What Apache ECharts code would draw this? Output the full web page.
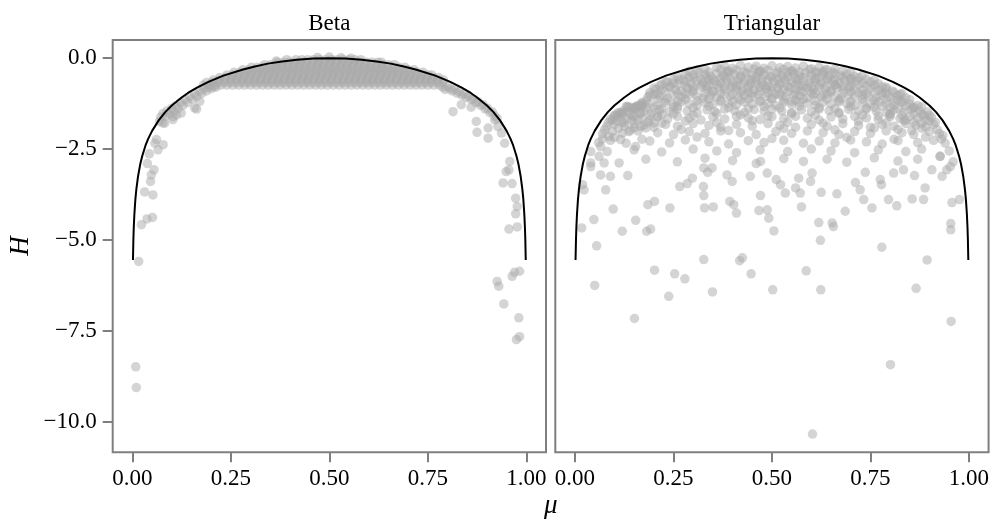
<!DOCTYPE html>
<html>
<head>
<meta charset="utf-8">
<script src="https://cdn.jsdelivr.net/npm/echarts@6/dist/echarts.min.js"></script>
<style>
  html, body { margin: 0; padding: 0; background: #fff; }
  #chart { width: 992px; height: 523px; }
</style>
</head>
<body>
<div id="chart"></div>
<script>
// Axis ticks and panel headings
const xTicks = [0, 0.25, 0.5, 0.75, 1];
const yTicks = [-10, -7.5, -5, -2.5, 0];
const panelTitles = ['Beta', 'Triangular'];

// Maximum-entropy bound H(mu)
const curveMu = [0.0014, 0.0025, 0.0035, 0.005, 0.0075, 0.01, 0.0143, 0.02, 0.025, 0.0333, 0.04, 0.05, 0.0667, 0.0833, 0.1, 0.125, 0.142, 0.164, 0.193, 0.231, 0.281, 0.311, 0.344, 0.38, 0.418, 0.459, 0.5,
  0.541, 0.582, 0.62, 0.656, 0.689, 0.719, 0.769, 0.807, 0.836, 0.858, 0.875, 0.9, 0.9167, 0.9333, 0.95, 0.96, 0.9667, 0.975, 0.98, 0.9857, 0.99, 0.9925, 0.995, 0.9965, 0.9975, 0.9986];
const curveH = [-5.55, -4.99, -4.65, -4.30, -3.89, -3.61, -3.25, -2.91, -2.69, -2.40, -2.22, -2.00, -1.71, -1.485, -1.30, -1.08, -0.95, -0.81, -0.65, -0.48, -0.31, -0.23, -0.15, -0.09, -0.04, -0.01, 0,
  -0.01, -0.04, -0.09, -0.15, -0.23, -0.31, -0.48, -0.65, -0.81, -0.95, -1.08, -1.30, -1.485, -1.71, -2.00, -2.22, -2.40, -2.69, -2.91, -3.25, -3.61, -3.89, -4.30, -4.65, -4.99, -5.55];

// Beta: dense band, listed as [H, mu values]
const betaBandRows = [
  [-0.74, [0.180,0.195,0.210,0.225,0.240,0.255,0.270,0.285,0.300,0.315,0.330,0.345,0.360,0.375,0.390,0.405,0.420,0.435,0.450,0.465,0.480,0.495,0.510,0.525,0.540,0.555,0.570,0.585,0.600,0.615,0.630,0.645,0.660,0.675,0.690,0.705,0.720,0.735,0.750,0.765,0.780]],
  [-0.67, [0.188,0.203,0.218,0.233,0.248,0.263,0.278,0.293,0.308,0.323,0.338,0.353,0.368,0.383,0.398,0.413,0.428,0.443,0.458,0.473,0.488,0.503,0.518,0.533,0.548,0.563,0.578,0.593,0.608,0.623,0.638,0.653,0.668,0.683,0.698,0.713,0.728,0.743,0.758,0.773,0.788]],
  [-0.60, [0.205,0.220,0.235,0.250,0.265,0.280,0.295,0.310,0.325,0.340,0.355,0.370,0.385,0.400,0.415,0.430,0.445,0.460,0.475,0.490,0.505,0.520,0.535,0.550,0.565,0.580,0.595,0.610,0.625,0.640,0.655,0.670,0.685,0.700,0.715,0.730,0.745,0.760,0.775,0.790]],
  [-0.53, [0.222,0.237,0.252,0.267,0.282,0.297,0.312,0.327,0.342,0.357,0.372,0.387,0.402,0.417,0.432,0.447,0.462,0.477,0.492,0.507,0.522,0.537,0.552,0.567,0.582,0.597,0.612,0.627,0.642,0.657,0.672,0.687,0.702,0.717,0.732,0.747,0.762,0.777]],
  [-0.46, [0.240,0.255,0.270,0.285,0.300,0.315,0.330,0.345,0.360,0.375,0.390,0.405,0.420,0.435,0.450,0.465,0.480,0.495,0.510,0.525,0.540,0.555,0.570,0.585,0.600,0.615,0.630,0.645,0.660,0.675,0.690,0.705,0.720,0.735,0.750,0.760]],
  [-0.39, [0.258,0.273,0.288,0.303,0.318,0.333,0.348,0.363,0.378,0.393,0.408,0.423,0.438,0.453,0.468,0.483,0.498,0.513,0.528,0.543,0.558,0.573,0.588,0.603,0.618,0.633,0.648,0.663,0.678,0.693,0.708,0.723,0.738]],
  [-0.32, [0.280,0.295,0.310,0.325,0.340,0.355,0.370,0.385,0.400,0.415,0.430,0.445,0.460,0.475,0.490,0.505,0.520,0.535,0.550,0.565,0.580,0.595,0.610,0.625,0.640,0.655,0.670,0.685,0.700,0.715]],
  [-0.25, [0.302,0.317,0.332,0.347,0.362,0.377,0.392,0.407,0.422,0.437,0.452,0.467,0.482,0.497,0.512,0.527,0.542,0.557,0.572,0.587,0.602,0.617,0.632,0.647,0.662,0.677,0.692]],
  [-0.18, [0.335,0.350,0.365,0.380,0.395,0.410,0.425,0.440,0.455,0.470,0.485,0.500,0.515,0.530,0.545,0.560,0.575,0.590,0.605,0.620,0.635,0.650,0.665]],
  [-0.11, [0.368,0.383,0.398,0.413,0.428,0.443,0.458,0.473,0.488,0.503,0.518,0.533,0.548,0.563,0.578,0.593,0.608,0.623,0.632]],
  [-0.04, [0.415,0.430,0.445,0.460,0.475,0.490,0.505,0.520,0.535,0.550,0.565,0.580]]
];
const betaTop = [[0.470,0.02],[0.392,-0.04],[0.530,0.01],[0.555,0.00],[0.365,-0.08],[0.500,0.03]];
const betaEdges = [
  [0.072,-1.62],[0.078,-1.52],[0.084,-1.60],[0.088,-1.45],[0.094,-1.53],[0.100,-1.38],[0.105,-1.46],[0.110,-1.31],[0.116,-1.38],[0.122,-1.22],
  [0.128,-1.30],[0.134,-1.14],[0.140,-1.22],[0.146,-1.06],[0.152,-1.13],[0.158,-0.98],[0.164,-1.05],[0.170,-0.91],[0.176,-0.97],[0.182,-0.84],
  [0.188,-0.90],[0.194,-0.80],[0.200,-0.84],[0.206,-0.78],[0.212,-0.80],
  [0.788,-0.80],[0.794,-0.86],[0.800,-0.78],[0.806,-0.84],[0.812,-0.90],[0.818,-0.86],[0.824,-0.96],[0.830,-0.92],[0.836,-1.02],[0.842,-0.98],
  [0.848,-1.08],[0.854,-1.04],[0.860,-1.14],[0.866,-1.12],[0.872,-1.22],[0.878,-1.20],[0.884,-1.30],[0.890,-1.28],[0.896,-1.40],[0.902,-1.38],
  [0.908,-1.50],[0.914,-1.48],[0.920,-1.60],[0.926,-1.66]
];
const betaTails = [
  [0.0085,-8.49],[0.010,-9.06],[0.016,-5.59],[0.023,-4.58],[0.037,-4.42],[0.051,-4.38],[0.031,-3.68],[0.052,-3.76],[0.046,-3.39],[0.048,-3.21],
  [0.055,-3.07],[0.038,-2.90],[0.043,-2.63],[0.057,-2.34],[0.078,-2.38],[0.065,-2.52],[0.061,-2.24],[0.069,-1.74],[0.082,-1.79],[0.077,-1.78],
  [0.103,-1.61],[0.112,-1.56],[0.124,-1.51],[0.103,-1.69],[0.158,-1.37],[0.171,-1.19],[0.163,-1.40],
  [0.814,-1.47],[0.835,-1.28],[0.860,-1.35],[0.873,-1.74],[0.875,-2.04],[0.903,-2.20],[0.903,-1.92],[0.920,-1.70],[0.928,-1.88],[0.937,-2.06],
  [0.945,-2.34],[0.958,-2.84],[0.949,-3.12],[0.956,-3.07],[0.941,-3.43],[0.964,-3.45],[0.973,-3.85],[0.977,-4.08],[0.973,-4.28],[0.956,-4.70],
  [0.977,-4.64],[0.970,-5.89],[0.983,-5.86],[0.964,-6.00],[0.926,-6.14],[0.930,-6.27],[0.943,-6.76],[0.981,-7.14],[0.975,-7.74],[0.983,-7.66]
];

// Triangular: main cloud and scattered low values
const triDense = [
  [0.33,-0.30],[0.36,-0.26],[0.38,-0.22],[0.40,-0.28],[0.42,-0.20],[0.44,-0.25],[0.46,-0.22],[0.48,-0.28],[0.50,-0.21],[0.52,-0.26],[0.54,-0.23],[0.56,-0.27],[0.58,-0.22],[0.60,-0.29],[0.62,-0.25],[0.64,-0.31],[0.66,-0.30],
  [0.26,-0.52],[0.28,-0.44],[0.30,-0.46],[0.315,-0.40],[0.33,-0.45],[0.345,-0.50],[0.36,-0.42],[0.375,-0.47],[0.39,-0.40],[0.405,-0.44],[0.42,-0.49],[0.435,-0.41],[0.45,-0.46],[0.465,-0.40],[0.48,-0.45],[0.495,-0.50],[0.51,-0.42],[0.525,-0.47],[0.54,-0.40],[0.555,-0.44],[0.57,-0.49],[0.585,-0.41],[0.60,-0.46],[0.615,-0.40],[0.63,-0.45],[0.645,-0.50],[0.66,-0.43],[0.675,-0.48],[0.69,-0.44],[0.71,-0.50],[0.73,-0.47],
  [0.22,-0.72],[0.235,-0.66],[0.25,-0.68],[0.265,-0.60],[0.28,-0.65],[0.295,-0.70],[0.31,-0.62],[0.325,-0.67],[0.34,-0.60],[0.355,-0.64],[0.37,-0.69],[0.385,-0.61],[0.40,-0.66],[0.415,-0.60],[0.43,-0.65],[0.445,-0.70],[0.46,-0.62],[0.475,-0.67],[0.49,-0.60],[0.505,-0.64],[0.52,-0.69],[0.535,-0.61],[0.55,-0.66],[0.565,-0.60],[0.58,-0.65],[0.595,-0.70],[0.61,-0.62],[0.625,-0.67],[0.64,-0.60],[0.655,-0.64],[0.67,-0.69],[0.685,-0.61],[0.70,-0.66],[0.715,-0.62],[0.73,-0.68],[0.75,-0.65],[0.77,-0.70],
  [0.19,-0.95],[0.205,-0.86],[0.22,-0.87],[0.24,-0.80],[0.255,-0.86],[0.27,-0.90],[0.285,-0.82],[0.30,-0.87],[0.32,-0.80],[0.335,-0.85],[0.35,-0.90],[0.365,-0.81],[0.38,-0.86],[0.395,-0.80],[0.41,-0.85],[0.425,-0.90],[0.44,-0.82],[0.455,-0.87],[0.47,-0.80],[0.485,-0.84],[0.50,-0.89],[0.515,-0.81],[0.53,-0.86],[0.545,-0.80],[0.56,-0.85],[0.575,-0.90],[0.59,-0.82],[0.605,-0.87],[0.62,-0.80],[0.635,-0.84],[0.65,-0.89],[0.665,-0.81],[0.68,-0.86],[0.695,-0.80],[0.71,-0.85],[0.73,-0.88],[0.75,-0.82],[0.77,-0.87],[0.79,-0.84],[0.805,-0.90],
  [0.15,-1.36],[0.17,-1.22],[0.185,-1.07],[0.20,-1.00],[0.215,-1.05],[0.235,-1.10],[0.25,-1.02],[0.27,-1.07],[0.29,-1.00],[0.31,-1.05],[0.325,-1.10],[0.345,-1.02],[0.36,-1.07],[0.38,-1.00],[0.395,-1.04],[0.415,-1.09],[0.43,-1.01],[0.45,-1.06],[0.465,-1.00],[0.485,-1.05],[0.50,-1.10],[0.52,-1.02],[0.535,-1.07],[0.555,-1.00],[0.57,-1.04],[0.59,-1.09],[0.605,-1.01],[0.625,-1.06],[0.64,-1.00],[0.66,-1.05],[0.675,-1.10],[0.695,-1.02],[0.71,-1.07],[0.73,-1.00],[0.745,-1.05],[0.765,-1.10],[0.78,-1.02],[0.80,-1.07],[0.82,-1.03],[0.84,-1.09],
  [0.12,-1.46],[0.135,-1.35],[0.155,-1.33],[0.17,-1.28],[0.19,-1.25],[0.21,-1.30],[0.23,-1.22],[0.25,-1.27],[0.27,-1.20],[0.29,-1.25],[0.31,-1.30],[0.33,-1.22],[0.35,-1.27],[0.37,-1.20],[0.39,-1.24],[0.41,-1.29],[0.43,-1.21],[0.45,-1.26],[0.47,-1.20],[0.49,-1.25],[0.51,-1.30],[0.53,-1.22],[0.55,-1.27],[0.57,-1.20],[0.59,-1.24],[0.61,-1.29],[0.63,-1.21],[0.65,-1.26],[0.67,-1.20],[0.69,-1.25],[0.71,-1.30],[0.73,-1.22],[0.75,-1.27],[0.77,-1.20],[0.79,-1.25],[0.81,-1.30],[0.83,-1.22],[0.85,-1.27],[0.87,-1.30],
  [0.10,-1.57],[0.115,-1.50],[0.135,-1.47],[0.155,-1.40],[0.175,-1.45],[0.195,-1.50],[0.215,-1.42],[0.24,-1.47],[0.26,-1.40],[0.285,-1.45],[0.31,-1.50],[0.335,-1.42],[0.355,-1.47],[0.38,-1.40],[0.405,-1.44],[0.43,-1.49],[0.455,-1.41],[0.48,-1.46],[0.50,-1.40],[0.525,-1.45],[0.55,-1.50],[0.575,-1.42],[0.60,-1.47],[0.62,-1.40],[0.645,-1.44],[0.67,-1.49],[0.695,-1.41],[0.72,-1.46],[0.74,-1.40],[0.765,-1.45],[0.79,-1.50],[0.81,-1.42],[0.835,-1.47],[0.855,-1.40],[0.875,-1.45],[0.895,-1.48],
  [0.09,-1.68],[0.11,-1.62],[0.13,-1.67],[0.15,-1.60],[0.17,-1.65],[0.19,-1.70],[0.21,-1.62],[0.235,-1.67],[0.26,-1.60],[0.29,-1.65],[0.32,-1.70],[0.35,-1.62],[0.38,-1.67],[0.41,-1.60],[0.44,-1.64],[0.47,-1.69],[0.50,-1.61],[0.53,-1.66],[0.56,-1.60],[0.59,-1.65],[0.62,-1.70],[0.65,-1.62],[0.68,-1.67],[0.71,-1.60],[0.74,-1.64],[0.77,-1.69],[0.80,-1.61],[0.825,-1.66],[0.85,-1.60],[0.87,-1.65],[0.89,-1.70],[0.905,-1.62],
  [0.08,-1.88],[0.10,-1.82],[0.125,-1.87],[0.15,-1.80],[0.175,-1.85],[0.20,-1.90],[0.23,-1.82],[0.26,-1.87],[0.30,-1.80],[0.34,-1.85],[0.37,-1.90],[0.41,-1.82],[0.45,-1.87],[0.49,-1.80],[0.52,-1.85],[0.56,-1.90],[0.60,-1.82],[0.64,-1.87],[0.68,-1.80],[0.72,-1.85],[0.75,-1.90],[0.78,-1.82],[0.81,-1.87],[0.84,-1.80],[0.865,-1.85],[0.89,-1.90],[0.91,-1.82],
  [0.07,-2.08],[0.095,-2.02],[0.12,-2.07],[0.16,-2.00],[0.21,-2.05],[0.25,-2.10],[0.29,-2.02],[0.33,-2.07],[0.37,-2.00],[0.42,-2.05],[0.46,-2.10],[0.51,-2.02],[0.55,-2.07],[0.59,-2.00],[0.63,-2.05],[0.67,-2.10],[0.71,-2.02],[0.75,-2.07],[0.79,-2.00],[0.83,-2.05],[0.86,-2.10],[0.90,-2.02],[0.925,-2.07],
  [0.06,-2.32],[0.09,-2.26],[0.13,-2.34],[0.19,-2.28],[0.24,-2.33],[0.28,-2.25],[0.34,-2.30],[0.39,-2.36],[0.44,-2.27],[0.48,-2.32],[0.53,-2.26],[0.58,-2.34],[0.62,-2.28],[0.66,-2.33],[0.70,-2.25],[0.74,-2.30],[0.78,-2.36],[0.82,-2.27],[0.87,-2.32],[0.91,-2.26],[0.94,-2.34],
  [0.04,-2.57],[0.082,-2.57],[0.15,-2.52],[0.22,-2.58],[0.30,-2.50],[0.36,-2.55],[0.41,-2.60],[0.47,-2.52],[0.54,-2.57],[0.60,-2.50],[0.65,-2.55],[0.71,-2.60],[0.77,-2.52],[0.84,-2.57],[0.88,-2.50],[0.95,-2.55],
  [0.061,-2.70],[0.074,-2.88],[0.04,-2.88],[0.112,-2.88],[0.18,-2.78],[0.26,-2.85],[0.33,-2.75],[0.40,-2.82],[0.46,-2.90],[0.53,-2.76],[0.58,-2.84],[0.64,-2.78],[0.69,-2.86],[0.76,-2.74],[0.82,-2.83],[0.87,-2.78],[0.927,-2.70],[0.96,-2.85],
  [0.086,-2.15],[0.065,-2.43],[0.116,-2.24],[0.137,-2.02],[0.150,-1.92],[0.154,-2.43],[0.095,-1.70],[0.107,-1.56],[0.12,-1.51],[0.133,-1.33],[0.158,-1.33],[0.167,-1.51],[0.167,-1.88],[0.934,-2.13],
  [0.37,-0.55],[0.41,-0.75],[0.45,-0.58],[0.49,-0.77],[0.53,-0.55],[0.57,-0.76],[0.61,-0.56],[0.44,-0.95],[0.52,-0.96],[0.60,-0.95],[0.39,-0.35],[0.47,-0.35],[0.55,-0.36],[0.63,-0.38],[0.42,-1.15],[0.56,-1.15],[0.34,-0.75],[0.66,-0.75],[0.30,-0.55],[0.70,-0.56],
  [0.14,-1.55],[0.18,-1.35],[0.22,-1.55],[0.20,-1.78],[0.12,-1.75],[0.25,-1.35],[0.16,-1.70],
  [0.78,-0.95],[0.82,-1.15],[0.86,-1.35],[0.80,-1.55],[0.84,-1.70],[0.88,-1.55],[0.76,-1.35],[0.83,-0.98]
];
const triDenseMid = [
  [0.29,-0.36],[0.31,-0.33],[0.34,-0.38],[0.37,-0.31],[0.385,-0.36],[0.41,-0.33],[0.43,-0.38],[0.455,-0.30],[0.47,-0.37],[0.49,-0.33],[0.515,-0.38],[0.53,-0.31],[0.55,-0.35],[0.57,-0.39],[0.595,-0.32],[0.61,-0.37],[0.635,-0.33],[0.655,-0.39],[0.68,-0.35],[0.70,-0.38],
  [0.23,-0.65],[0.25,-0.58],[0.275,-0.58],[0.29,-0.52],[0.32,-0.57],[0.335,-0.54],[0.35,-0.59],[0.38,-0.52],[0.395,-0.56],[0.42,-0.53],[0.44,-0.59],[0.46,-0.52],[0.475,-0.56],[0.50,-0.54],[0.515,-0.58],[0.54,-0.52],[0.56,-0.57],[0.58,-0.53],[0.60,-0.58],[0.62,-0.52],[0.64,-0.56],[0.66,-0.59],[0.68,-0.53],[0.70,-0.57],[0.72,-0.54],[0.74,-0.58],[0.76,-0.60],
  [0.20,-0.82],[0.215,-0.76],[0.24,-0.78],[0.26,-0.72],[0.28,-0.76],[0.30,-0.79],[0.32,-0.73],[0.335,-0.77],[0.36,-0.72],[0.38,-0.76],[0.40,-0.79],[0.42,-0.73],[0.44,-0.77],[0.46,-0.72],[0.48,-0.76],[0.50,-0.79],[0.52,-0.73],[0.54,-0.77],[0.56,-0.72],[0.58,-0.76],[0.60,-0.79],[0.62,-0.73],[0.64,-0.77],[0.66,-0.72],[0.68,-0.76],[0.70,-0.79],[0.72,-0.73],[0.74,-0.77],[0.76,-0.74],[0.78,-0.78],[0.79,-0.80],
  [0.17,-1.25],[0.19,-1.02],[0.21,-0.98],[0.23,-0.92],[0.26,-0.96],[0.28,-0.99],[0.30,-0.93],[0.33,-0.97],[0.35,-0.92],[0.37,-0.96],[0.40,-0.99],[0.42,-0.93],[0.45,-0.97],[0.47,-0.92],[0.49,-0.96],[0.51,-0.99],[0.54,-0.93],[0.56,-0.97],[0.58,-0.92],[0.61,-0.96],[0.63,-0.99],[0.65,-0.93],[0.68,-0.97],[0.70,-0.92],[0.72,-0.96],[0.74,-0.99],[0.76,-0.93],[0.79,-0.97],[0.81,-0.94],[0.825,-0.99],
  [0.14,-1.35],[0.16,-1.30],[0.18,-1.18],[0.21,-1.12],[0.23,-1.16],[0.26,-1.19],[0.28,-1.13],[0.31,-1.17],[0.34,-1.12],[0.37,-1.16],[0.40,-1.19],[0.44,-1.13],[0.47,-1.17],[0.50,-1.12],[0.53,-1.16],[0.55,-1.19],[0.58,-1.13],[0.61,-1.17],[0.64,-1.12],[0.67,-1.16],[0.70,-1.19],[0.73,-1.13],[0.76,-1.17],[0.79,-1.12],[0.81,-1.16],[0.83,-1.19],[0.85,-1.14],
  [0.11,-1.50],[0.13,-1.33],[0.15,-1.38],[0.17,-1.32],[0.20,-1.36],[0.22,-1.39],[0.26,-1.33],[0.30,-1.37],[0.34,-1.32],[0.39,-1.36],[0.44,-1.39],[0.48,-1.33],[0.52,-1.37],[0.57,-1.32],[0.62,-1.36],[0.66,-1.39],[0.70,-1.33],[0.74,-1.37],[0.78,-1.32],[0.80,-1.36],[0.82,-1.39],[0.84,-1.33],[0.86,-1.37],[0.88,-1.34],
  [0.10,-1.60],[0.12,-1.53],[0.145,-1.58],[0.165,-1.52],[0.19,-1.56],[0.21,-1.59],[0.25,-1.53],[0.30,-1.57],[0.36,-1.52],[0.42,-1.56],[0.49,-1.59],[0.55,-1.53],[0.61,-1.57],[0.67,-1.52],[0.73,-1.56],[0.77,-1.59],[0.80,-1.53],[0.83,-1.57],[0.86,-1.52],[0.885,-1.56],[0.90,-1.58],
  [0.085,-1.77],[0.105,-1.73],[0.125,-1.78],[0.145,-1.72],[0.185,-1.76],[0.22,-1.79],[0.28,-1.73],[0.36,-1.77],[0.45,-1.72],[0.54,-1.76],[0.63,-1.79],[0.72,-1.73],[0.79,-1.77],[0.835,-1.72],[0.86,-1.76],[0.88,-1.79],[0.90,-1.73],[0.915,-1.77],
  [0.075,-1.97],[0.11,-1.93],[0.14,-1.98],[0.18,-1.92],[0.27,-1.96],[0.39,-1.99],[0.53,-1.93],[0.66,-1.97],[0.76,-1.92],[0.82,-1.96],[0.855,-1.99],[0.88,-1.93],[0.92,-1.97],
  [0.07,-2.22],[0.10,-2.18],[0.17,-2.23],[0.31,-2.17],[0.50,-2.21],[0.69,-2.18],[0.81,-2.23],[0.89,-2.17],[0.93,-2.22]
];
const triSparse = [
  [0.040,-2.98],[0.065,-3.21],[0.090,-3.25],[0.134,-3.23],[0.019,-3.48],[0.023,-3.62],[0.078,-3.62],[0.097,-4.15],[0.048,-4.44],[0.017,-4.67],
  [0.120,-4.76],[0.154,-4.46],[0.055,-5.16],[0.185,-4.03],[0.202,-3.94],[0.182,-4.76],[0.192,-4.70],[0.241,-4.12],[0.266,-3.53],[0.285,-3.45],
  [0.298,-3.30],[0.326,-3.53],[0.327,-3.78],[0.329,-4.12],[0.351,-4.09],[0.327,-3.02],[0.337,-3.14],[0.348,-3.02],[0.386,-3.21],[0.399,-3.39],
  [0.393,-3.94],[0.403,-4.03],[0.410,-4.26],[0.445,-3.25],[0.467,-4.19],[0.488,-4.17],[0.492,-4.40],[0.471,-3.78],[0.505,-4.75],[0.511,-3.34],
  [0.471,-2.84],[0.488,-3.16],[0.522,-3.48],[0.534,-3.71],[0.560,-3.57],[0.572,-3.71],[0.575,-4.09],[0.568,-3.30],[0.598,-3.39],[0.602,-3.16],
  [0.625,-3.69],[0.665,-3.73],[0.619,-4.52],[0.653,-4.53],[0.656,-4.63],[0.623,-5.01],[0.686,-4.21],[0.712,-3.42],[0.724,-3.62],[0.733,-3.89],
  [0.754,-4.12],[0.737,-3.14],[0.775,-3.34],[0.778,-3.48],[0.796,-3.89],[0.779,-5.20],[0.817,-4.06],[0.856,-3.87],[0.885,-3.89],[0.889,-3.57],
  [0.862,-3.23],[0.809,-3.16],[0.834,-3.07],[0.932,-3.25],[0.944,-3.07],[0.953,-2.98],[0.957,-3.97],[0.976,-3.89],[0.954,-4.55],[0.954,-4.72],
  [0.906,-3.07],[0.927,-2.70],
  [0.050,-6.25],[0.151,-7.16],[0.202,-5.83],[0.238,-6.55],[0.253,-5.93],[0.279,-6.07],[0.327,-5.54],[0.349,-6.43],[0.418,-5.57],[0.425,-5.49],
  [0.447,-5.93],[0.502,-6.37],[0.587,-5.85],[0.624,-6.37],[0.603,-10.34],[0.801,-8.43],[0.894,-5.55],[0.866,-6.33],[0.955,-7.24]
];

const betaPoints = [];
betaBandRows.forEach(([h, mus]) => mus.forEach(m => betaPoints.push([m, h])));
betaPoints.push(...betaTop, ...betaEdges, ...betaTails);
const triPoints = triDense.concat(triDenseMid, triSparse);
const curve = curveMu.map((m, i) => [m, curveH[i]]);

const SERIF = "'Liberation Serif', 'DejaVu Serif', serif";
const GRAY = '#7f7f7f';
const pointStyle = { color: '#a9a9a9', opacity: 0.5 };
const panels = [{ left: 112.7 }, { left: 555.3 }];
const gridTop = 40, gridW = 433.3, gridH = 412.3;

const fmtY = v => (v < 0 ? '\u2212' : '') + Math.abs(v).toFixed(1);

const option = {
  animation: false,
  backgroundColor: '#ffffff',
  grid: panels.map(p => ({
    left: p.left, top: gridTop, width: gridW, height: gridH,
    show: true, borderColor: GRAY, borderWidth: 2, backgroundColor: 'transparent'
  })),
  xAxis: panels.map((p, i) => ({
    type: 'value', gridIndex: i, min: -0.05, max: 1.05, position: 'bottom',
    axisLine: { show: false, onZero: false },
    splitLine: { show: false },
    axisTick: { show: true, inside: false, customValues: xTicks, length: 10, lineStyle: { color: GRAY, width: 2 } },
    axisLabel: { show: true, customValues: xTicks, margin: 15, color: '#000', fontFamily: SERIF, fontSize: 23,
      formatter: v => v.toFixed(2) }
  })),
  yAxis: panels.map((p, i) => ({
    type: 'value', gridIndex: i, min: -10.84, max: 0.5, position: 'left',
    axisLine: { show: false, onZero: false },
    splitLine: { show: false },
    axisTick: { show: i === 0, inside: false, customValues: yTicks, length: 10, lineStyle: { color: GRAY, width: 2 } },
    axisLabel: { show: i === 0, customValues: yTicks, margin: 16, color: '#000', fontFamily: SERIF, fontSize: 23,
      formatter: fmtY }
  })),
  graphic: [
    ...panelTitles.map((t, i) => ({
      type: 'text', silent: true,
      x: panels[i].left + gridW / 2, y: 24,
      style: { text: t, fill: '#000', font: "23px " + SERIF, textAlign: 'center', textVerticalAlign: 'middle' }
    })),
    {
      type: 'text', silent: true, x: 21, y: 246, rotation: Math.PI / 2,
      style: { text: 'H', fill: '#000', font: "italic 27px " + SERIF, textAlign: 'center', textVerticalAlign: 'middle' }
    },
    {
      type: 'text', silent: true, x: 550.7, y: 506,
      style: { text: '\u03bc', fill: '#000', font: "italic 27px " + SERIF, textAlign: 'center', textVerticalAlign: 'middle' }
    }
  ],
  series: [
    { type: 'scatter', xAxisIndex: 0, yAxisIndex: 0, data: betaPoints, symbol: 'circle', symbolSize: 9.5,
      itemStyle: pointStyle, silent: true, emphasis: { disabled: true } },
    { type: 'line', xAxisIndex: 0, yAxisIndex: 0, data: curve, showSymbol: false, smooth: false,
      lineStyle: { color: '#000', width: 2 }, silent: true, z: 5 },
    { type: 'scatter', xAxisIndex: 1, yAxisIndex: 1, data: triPoints, symbol: 'circle', symbolSize: 9.5,
      itemStyle: pointStyle, silent: true, emphasis: { disabled: true } },
    { type: 'line', xAxisIndex: 1, yAxisIndex: 1, data: curve, showSymbol: false, smooth: false,
      lineStyle: { color: '#000', width: 2 }, silent: true, z: 5 }
  ]
};

const chart = echarts.init(document.getElementById('chart'), null, { renderer: 'canvas' });
chart.setOption(option);
</script>
</body>
</html>
